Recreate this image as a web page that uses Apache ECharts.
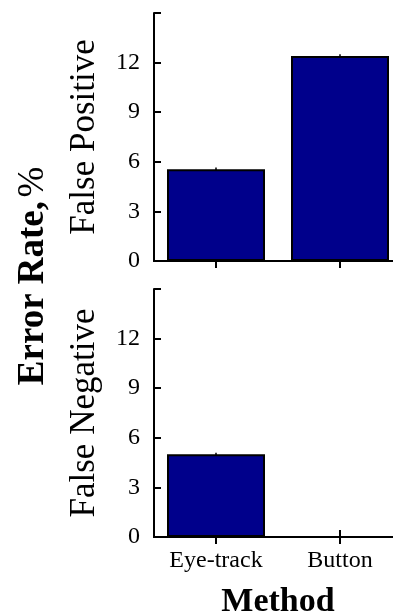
<!DOCTYPE html>
<html>
<head>
<meta charset="utf-8">
<script src="https://cdn.jsdelivr.net/npm/echarts@6/dist/echarts.min.js"></script>
<style>
html,body{margin:0;padding:0;background:#fff;}
#c{width:393px;height:616px;}
</style>
</head>
<body>
<div id="c"></div>
<script>
const categories = ['Eye-track', 'Button'];
const falsePositive = [5.55, 12.4];
const falsePositiveErr = [0.1, 0.1];
const falseNegative = [5.0, 0];
const falseNegativeErr = [0.1, 0];
const yTickLabels = [0, 3, 6, 9, 12];
const yMax = 15;
const yInterval = 3;

const FONT = 'Liberation Serif';
const chart = echarts.init(document.getElementById('c'), null, {renderer: 'canvas'});

function xAxes(gridIndex, showLabels) {
  return [
    {
      type: 'category', gridIndex: gridIndex, data: categories, position: 'bottom',
      axisLine: {lineStyle: {color: '#000', width: 2}},
      axisTick: {show: true, inside: true, alignWithLabel: true, length: 7, lineStyle: {color: '#000', width: 2}},
      axisLabel: {show: showLabels, interval: 0, hideOverlap: false, color: '#000', fontFamily: FONT, fontSize: 24, margin: 12},
      name: showLabels ? 'Method' : '', nameLocation: 'middle', nameGap: 48,
      nameTextStyle: {color: '#000', fontFamily: FONT, fontSize: 34, fontWeight: 'bold'},
      splitLine: {show: false}
    },
    {
      type: 'category', gridIndex: gridIndex, data: categories, position: 'top',
      axisLine: {lineStyle: {color: '#000', width: 2}},
      axisTick: {show: true, inside: true, alignWithLabel: true, length: 7, lineStyle: {color: '#000', width: 2}},
      axisLabel: {show: false},
      splitLine: {show: false}
    }
  ];
}

function yAxes(gridIndex, name) {
  return [
    {
      type: 'value', gridIndex: gridIndex, min: 0, max: yMax, interval: yInterval, position: 'left',
      axisLine: {show: true, lineStyle: {color: '#000', width: 2}},
      axisTick: {show: true, inside: true, length: 7, lineStyle: {color: '#000', width: 2}},
      axisLabel: {color: '#000', fontFamily: FONT, fontSize: 24, margin: 14,
        formatter: function (v) { return yTickLabels.indexOf(v) >= 0 ? String(v) : ''; }},
      splitLine: {show: false},
      name: name, nameLocation: 'middle', nameRotate: 90, nameGap: 52,
      nameTextStyle: {color: '#000', fontFamily: FONT, fontSize: 35}
    },
    {
      type: 'value', gridIndex: gridIndex, min: 0, max: yMax, interval: yInterval, position: 'right',
      axisLine: {show: true, lineStyle: {color: '#000', width: 2}},
      axisTick: {show: true, inside: true, length: 7, lineStyle: {color: '#000', width: 2}},
      axisLabel: {show: false},
      splitLine: {show: false}
    }
  ];
}

function errSeries(xIdx, yIdx, vals, errs) {
  return {
    type: 'custom', xAxisIndex: xIdx, yAxisIndex: yIdx, z: 5,
    data: vals.map(function (v, i) { return [i, v, errs[i]]; }),
    renderItem: function (params, api) {
      const i = api.value(0), v = api.value(1), e = api.value(2);
      if (!e) return null;
      const p1 = api.coord([i, v - e]);
      const p2 = api.coord([i, v + e]);
      return {type: 'line', shape: {x1: p1[0], y1: p1[1], x2: p2[0], y2: p2[1]},
        style: {stroke: '#000', lineWidth: 1.5}};
    }
  };
}

const option = {
  backgroundColor: '#fff',
  animation: false,
  grid: [
    {left: 154, top: 13, width: 248, height: 248, containLabel: false, outerBoundsMode: 'none'},
    {left: 154, top: 289, width: 248, height: 248, containLabel: false, outerBoundsMode: 'none'}
  ],
  xAxis: xAxes(0, false).concat(xAxes(1, true)),
  yAxis: yAxes(0, 'False Positive').concat(yAxes(1, 'False Negative')),
  graphic: [
    {
      type: 'text', x: 33, y: 276, rotation: Math.PI / 2,
      style: {
        text: '{b|Error Rate,} {r|%}', align: 'center', verticalAlign: 'middle',
        rich: {
          b: {fontFamily: FONT, fontSize: 37, fontWeight: 'bold', fill: '#000'},
          r: {fontFamily: FONT, fontSize: 37, fill: '#000'}
        }
      }
    }
  ],
  series: [
    {
      type: 'bar', xAxisIndex: 0, yAxisIndex: 0, data: falsePositive, barWidth: 98,
      itemStyle: {color: '#00008b', borderColor: '#000', borderWidth: 2}
    },
    errSeries(0, 0, falsePositive, falsePositiveErr),
    {
      type: 'bar', xAxisIndex: 2, yAxisIndex: 2, data: falseNegative, barWidth: 98,
      itemStyle: {color: '#00008b', borderColor: '#000', borderWidth: 2}
    },
    errSeries(2, 2, falseNegative, falseNegativeErr)
  ]
};
chart.setOption(option);
</script>
</body>
</html>
